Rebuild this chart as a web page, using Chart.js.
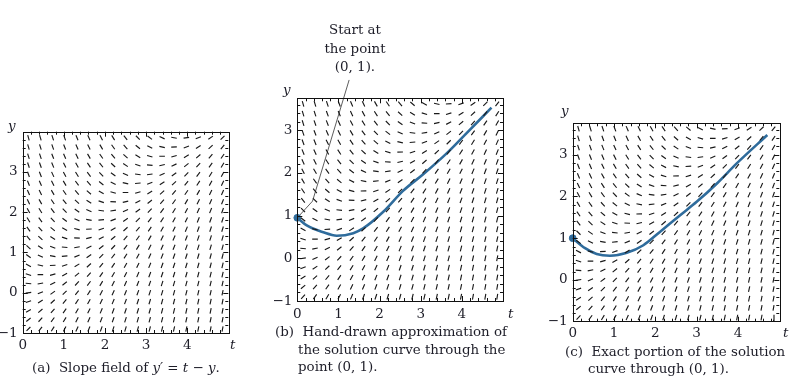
<!DOCTYPE html>
<html>
<head>
<meta charset="utf-8">
<script src="https://cdn.jsdelivr.net/npm/chart.js@4.4.1/dist/chart.umd.min.js"></script>
<style>
  body { margin: 0; width: 804px; height: 384px; background: #fff; position: relative; overflow: hidden;
         font-family: 'DejaVu Serif', serif; color: #1d1d28; }
  canvas { position: absolute; }
  .txt { position: absolute; white-space: nowrap; font-size: 13.4px; line-height: 17.5px; }
  .it { font-style: italic; }
</style>
</head>
<body>
<canvas id="panelA" width="250" height="275" style="left:0;top:100px"></canvas>
<canvas id="panelB" width="270" height="330" style="left:260px;top:0"></canvas>
<canvas id="panelC" width="264" height="245" style="left:540px;top:100px"></canvas>

<div class="txt" style="left:305px;top:21px;width:100px;text-align:center;line-height:18.5px">Start at<br>the point<br>(0, 1).</div>

<div class="txt it" style="left:8px;top:117px">y</div>
<div class="txt it" style="left:283px;top:81px">y</div>
<div class="txt it" style="left:561px;top:102px">y</div>
<div class="txt it" style="left:230px;top:336px">t</div>
<div class="txt it" style="left:508px;top:305px">t</div>
<div class="txt it" style="left:783px;top:324px">t</div>

<div class="txt" style="left:32px;top:359px">(a)&nbsp; Slope field of <span class="it">y′</span> = <span class="it">t</span> − <span class="it">y</span>.</div>
<div class="txt" style="left:275px;top:323px">(b)&nbsp; Hand-drawn approximation of</div>
<div class="txt" style="left:298px;top:341px">the solution curve through the</div>
<div class="txt" style="left:298px;top:358px">point (0, 1).</div>
<div class="txt" style="left:565px;top:343px">(c)&nbsp; Exact portion of the solution</div>
<div class="txt" style="left:588px;top:360px">curve through (0, 1).</div>

<script>
const T_GRID = [0.14, 0.43, 0.73, 1.02, 1.32, 1.61, 1.91, 2.2, 2.5, 2.8, 3.09, 3.39, 3.68, 3.98, 4.27, 4.57, 4.86];
const Y_GRID_A = [-0.9, -0.67, -0.45, -0.22, 0.0, 0.23, 0.45, 0.68, 0.91, 1.13, 1.36, 1.58, 1.81, 2.04,
                  2.26, 2.49, 2.72, 2.94, 3.17, 3.39, 3.62, 3.85];
const Y_GRID_BC = Y_GRID_A.slice(0, 21);

const X_TICKS = [0, 1, 2, 3, 4];
const Y_TICKS = [-1, 0, 1, 2, 3];

// (b) hand-drawn curve
const HAND_T = [0, 0.23, 0.63, 0.96, 1.36, 1.6, 2.09, 2.57, 3.06, 3.63, 4.11, 4.72];
const HAND_Y = [0.95, 0.77, 0.61, 0.53, 0.59, 0.70, 1.09, 1.58, 1.97, 2.46, 2.93, 3.53];

// (c) exact solution portion
const EXACT_T = [0, 0.3, 0.58, 0.9, 1.31, 1.71, 2.11, 2.6, 3.0, 3.49, 3.97, 4.71];
const EXACT_Y = [1.0, 0.76, 0.62, 0.58, 0.65, 0.83, 1.15, 1.55, 1.87, 2.31, 2.79, 3.47];

// leader line from "Start at the point (0, 1)."
const LEADER_T = [0, 0.37, 1.26];
const LEADER_Y = [0.95, 1.34, 4.18];

const BLUE = '#2f6c9c';
const HALF = 0.068;

const slope = (t, y) => t - y;

function fieldData(ys) {
  const pts = [];
  for (const y of ys) {
    for (const t of T_GRID) {
      const m = slope(t, y);
      const d = HALF / Math.sqrt(1 + m * m);
      pts.push({ x: t - d, y: y - m * d }, { x: t + d, y: y + m * d }, { x: t, y: null });
    }
  }
  return pts;
}

const zip = (xs, ys) => xs.map((x, i) => ({ x, y: ys[i] }));

const frameTicks = {
  id: 'frameTicks',
  afterDatasetsDraw(chart) {
    const { ctx, chartArea: a, scales: { x, y } } = chart;
    ctx.save();
    ctx.strokeStyle = '#111';
    ctx.lineWidth = 1;
    ctx.strokeRect(Math.round(a.left) + 0.5, Math.round(a.top) + 0.5,
                   Math.round(a.right - a.left), Math.round(a.bottom - a.top));
    ctx.beginPath();
    const nx = Math.round((x.max - x.min) / 0.2);
    for (let i = 1; i < nx; i++) {
      const v = x.min + i * 0.2;
      const len = i % 5 === 0 ? 5 : 3;
      const px = Math.round(x.getPixelForValue(v)) + 0.5;
      ctx.moveTo(px, a.bottom); ctx.lineTo(px, a.bottom - len);
      ctx.moveTo(px, a.top); ctx.lineTo(px, a.top + len);
    }
    const ny = Math.floor((y.max - y.min) / 0.2 + 1e-6);
    for (let i = 1; i <= ny; i++) {
      const v = y.min + i * 0.2;
      if (v >= y.max - 0.05) break;
      const len = i % 5 === 0 ? 5 : 3;
      const py = Math.round(y.getPixelForValue(v)) + 0.5;
      ctx.moveTo(a.left, py); ctx.lineTo(a.left + len, py);
      ctx.moveTo(a.right, py); ctx.lineTo(a.right - len, py);
    }
    ctx.stroke();
    ctx.restore();
  }
};

const tickFont = { family: 'DejaVu Serif', size: 13.5 };
const fmt = v => (v < 0 ? '−' + Math.abs(v) : String(v));

function makePanel(id, opt) {
  const datasets = [{
    type: 'line', data: fieldData(opt.ys), borderColor: '#1a1a1a', borderWidth: 1.15,
    pointRadius: 0, spanGaps: false, tension: 0
  }];
  if (opt.curve) {
    datasets.push({
      type: 'line', data: opt.curve, borderColor: BLUE, borderWidth: 2.6,
      pointRadius: 0, cubicInterpolationMode: 'monotone'
    });
    datasets.push({
      type: 'scatter', data: [opt.curve[0]], backgroundColor: BLUE, borderColor: BLUE,
      pointRadius: 3.4, clip: false
    });
  }
  if (opt.leader) {
    datasets.push({
      type: 'line', data: opt.leader, borderColor: '#333', borderWidth: 0.8,
      pointRadius: 0, tension: 0, clip: false
    });
  }
  return new Chart(document.getElementById(id), {
    type: 'scatter',
    data: { datasets },
    options: {
      responsive: false,
      animation: false,
      events: [],
      layout: { padding: { top: opt.padTop, right: opt.padRight, left: 0, bottom: 0 } },
      plugins: { legend: { display: false }, tooltip: { enabled: false } },
      scales: {
        x: {
          type: 'linear', min: 0, max: 5,
          afterFit: s => { s.height = opt.xHeight; },
          afterBuildTicks: s => { s.ticks = X_TICKS.map(v => ({ value: v })); },
          grid: { display: false, drawTicks: false }, border: { display: false },
          ticks: { font: tickFont, color: '#1d1d28', padding: opt.xPad, maxRotation: 0, callback: fmt }
        },
        y: {
          type: 'linear', min: -1, max: opt.yMax,
          afterFit: s => { s.width = opt.yWidth; },
          afterBuildTicks: s => { s.ticks = Y_TICKS.map(v => ({ value: v })); },
          grid: { display: false, drawTicks: false }, border: { display: false },
          ticks: { font: tickFont, color: '#1d1d28', padding: 5, callback: fmt }
        }
      }
    },
    plugins: [frameTicks]
  });
}

makePanel('panelA', { ys: Y_GRID_A, yMax: 4, padTop: 31.7, padRight: 21.7, xHeight: 42, yWidth: 22.7, xPad: 4.5 });
makePanel('panelB', { ys: Y_GRID_BC, yMax: 3.75, padTop: 98.3, padRight: 27, xHeight: 29, yWidth: 37.3, xPad: 5.5,
                      curve: zip(HAND_T, HAND_Y), leader: zip(LEADER_T, LEADER_Y) });
makePanel('panelC', { ys: Y_GRID_BC, yMax: 3.75, padTop: 23.3, padRight: 24.7, xHeight: 23.3, yWidth: 32.7, xPad: 4,
                      curve: zip(EXACT_T, EXACT_Y) });
</script>
</body>
</html>
